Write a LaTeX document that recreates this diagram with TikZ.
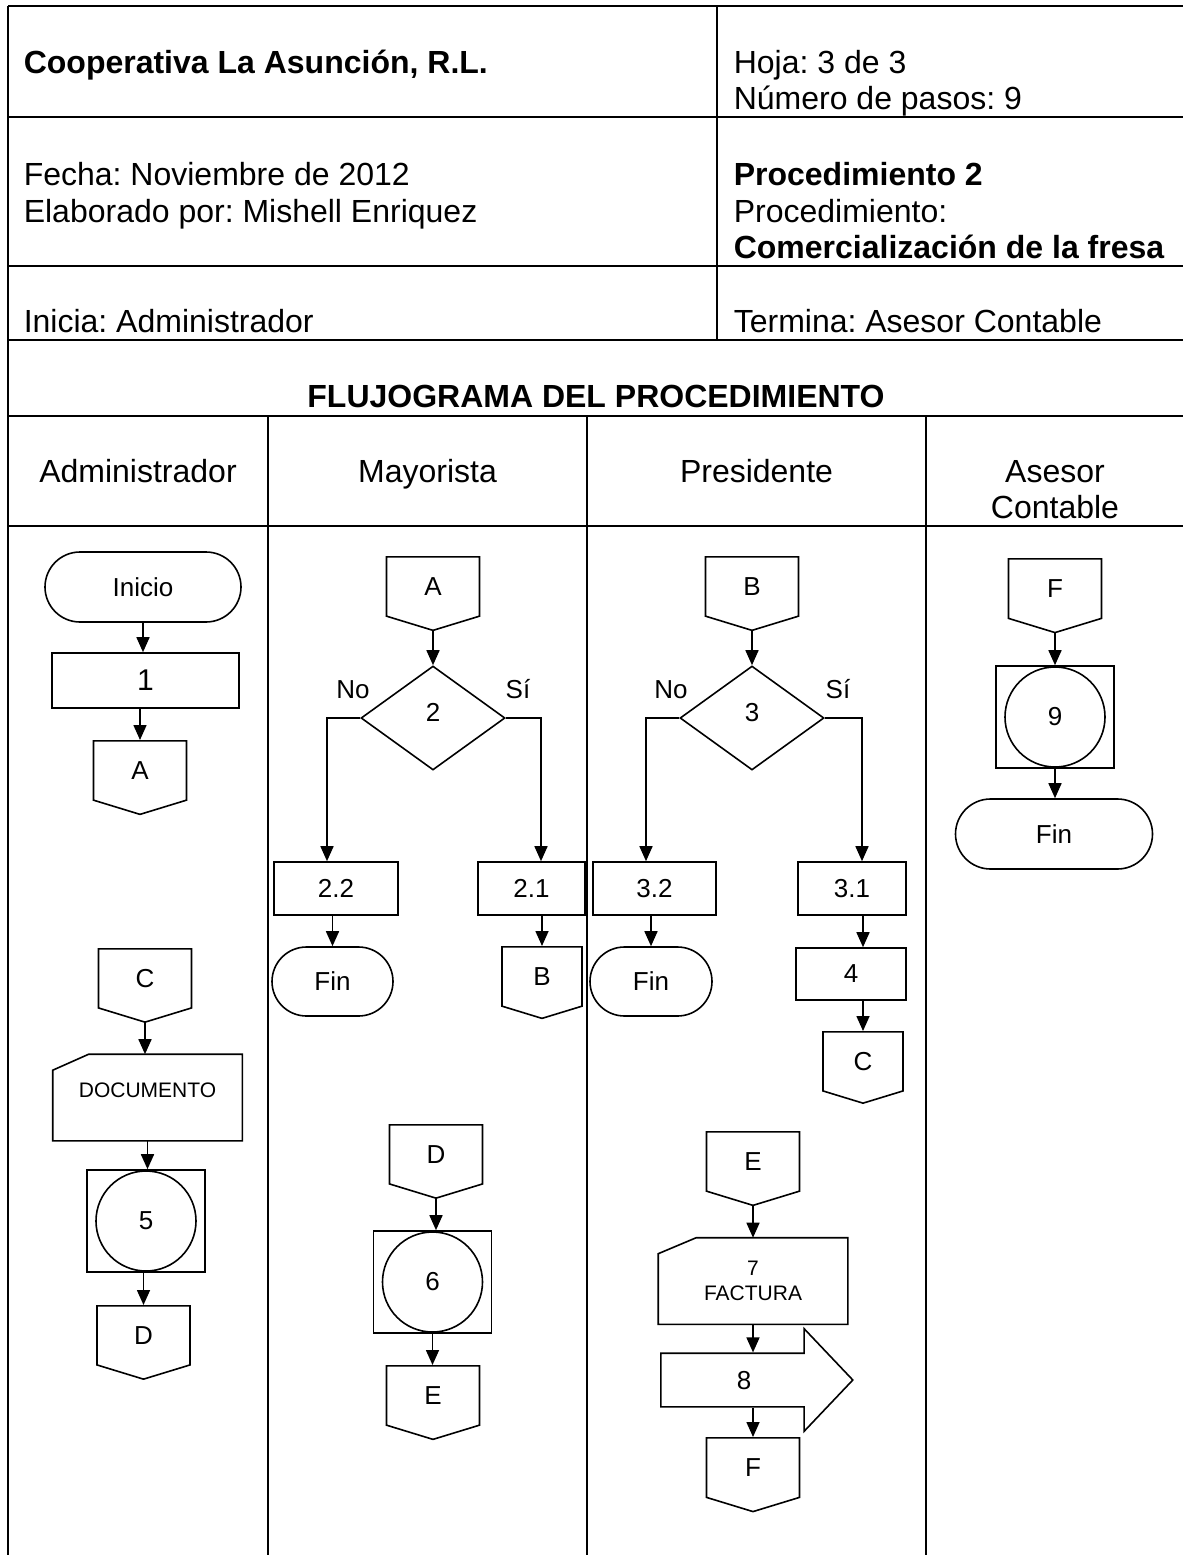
\documentclass[tikz,border=0pt]{standalone}
\usepackage{fontspec}
\setmainfont{Liberation Sans}
\usetikzlibrary{arrows.meta,shapes.geometric,shapes.misc,shapes.symbols,shapes.arrows}
\frenchspacing

\begin{document}
\begin{tikzpicture}[x=1pt,y=-1pt,line width=1.6pt,
    every node/.style={inner sep=0pt,font=\fontsize{26}{31}\selectfont},
    txt/.style={anchor=base west,font=\fontsize{32}{37}\selectfont},
    txtb/.style={anchor=base west,font=\fontsize{32}{37}\selectfont\bfseries},
    lane/.style={anchor=base,align=center,font=\fontsize{32}{36}\selectfont},
    term/.style={draw,rounded rectangle,minimum width=#1,minimum height=70pt},
    proc/.style={draw,minimum width=#1,minimum height=53pt},
    offpage/.style={draw,signal,signal to=south,signal pointer angle=146,
        minimum width=#1,minimum height=62pt,anchor=north},
    offpage/.default=93pt,
    decision/.style={draw,diamond,minimum width=144pt,minimum height=104pt,text depth=12pt},
    card/.style={minimum width=188pt,minimum height=85pt,align=center,font=\fontsize{21}{25}\selectfont},
    subproc/.style={draw,minimum width=118pt,minimum height=102pt,
        path picture={\draw (path picture bounding box.center) circle[radius=50pt];}},
    arrowbox/.style={draw,single arrow,single arrow head extend=24.5pt,single arrow tip angle=93,
        text height=18pt,text depth=0pt,inner ysep=17pt,minimum height=192pt,anchor=tail},
    flow/.style={-{Triangle[length=15pt,width=13pt]}}]
    \useasboundingbox (0,0) rectangle (1183,1555);
    \draw (8,6) -- (1183,6) (8,117) -- (1183,117) (8,266) -- (1183,266)
          (8,340) -- (1183,340) (8,416) -- (1183,416) (8,526) -- (1183,526);
    \draw (8,6) -- (8,1555);
    \draw (717,6) -- (717,340);
    \draw (268,416) -- (268,1555) (587,416) -- (587,1555) (926,416) -- (926,1555);

    \node[txtb] (coop) at (23,74) {Cooperativa La Asunción, R.L.};
    \node[txt] (hoja) at (733,74) {Hoja: 3 de 3};
    \node[txt] (pasos) at (733,110) {Número de pasos: 9};
    \node[txt] (fecha) at (23,185) {Fecha: Noviembre de 2012};
    \node[txt] (elab) at (23,222) {Elaborado por: Mishell Enriquez};
    \node[txtb] (proc2) at (733,185) {Procedimiento 2};
    \node[txt] (procl) at (733,222) {Procedimiento:};
    \node[txtb] (nombre) at (733,258) {Comercialización de la fresa};
    \node[txt] (inicia) at (23,332) {Inicia: Administrador};
    \node[txt] (termina) at (733,332) {Termina: Asesor Contable};
    \node[txtb,anchor=base] (titulo) at (596,407) {FLUJOGRAMA DEL PROCEDIMIENTO};
    \node[lane] (admin) at (138,482) {Administrador};
    \node[lane] (mayor) at (427.5,482) {Mayorista};
    \node[lane] (presi) at (756.5,482) {Presidente};
    \node[lane] (asesor) at (1055,518) {Asesor\\Contable};

    \node[term=196pt] (inicio) at (143,587) {Inicio};
    \node[proc=187pt,minimum height=55pt,font=\fontsize{30}{36}\selectfont] (paso1) at (145.5,680.5) {1};
    \node[offpage] (conA1) at (140,740) {A};
    \node[offpage] (conC2) at (145,948) {C};
    \node[card,text depth=14pt] (documento) at (147.5,1097.5) {DOCUMENTO};
    \node[subproc] (paso5) at (146,1221) {5};
    \node[offpage] (conD1) at (143.5,1305) {D};

    \node[offpage] (conA2) at (433,556) {A};
    \node[decision] (dec2) at (433,718) {2};
    \node[anchor=base] (no2) at (353,698) {No};
    \node[anchor=base] (si2) at (518,698) {Sí};
    \node[proc=124pt] (paso22) at (336,888.5) {2.2};
    \node[proc=107pt] (paso21) at (531.5,888.5) {2.1};
    \node[term=121pt,minimum height=69pt] (fin2) at (332.5,981.5) {Fin};
    \node[offpage=80pt] (conB1) at (542,946) {B};
    \node[offpage] (conD2) at (436,1124) {D};
    \node[subproc] (paso6) at (432.5,1282) {6};
    \node[offpage] (conE1) at (433,1365) {E};

    \node[offpage] (conB2) at (752,556) {B};
    \node[decision] (dec3) at (752,718) {3};
    \node[anchor=base] (no3) at (671,698) {No};
    \node[anchor=base] (si3) at (838,698) {Sí};
    \node[proc=123pt] (paso32) at (654.5,888.5) {3.2};
    \node[proc=108pt] (paso31) at (852,888.5) {3.1};
    \node[term=122pt,minimum height=69pt] (fin3) at (651,981.5) {Fin};
    \node[proc=110pt,minimum height=52pt] (paso4) at (851,974) {4};
    \node[offpage=80pt] (conC1) at (863,1031) {C};
    \node[offpage] (conE2) at (753,1131) {E};
    \node[card] (factura) at (753,1281) {7\\FACTURA};
    \node[arrowbox] (paso8) at (660,1380) {8};
    \node[offpage] (conF1) at (753,1437) {F};

    \node[offpage] (conF2) at (1055,558) {F};
    \node[subproc] (paso9) at (1055,717) {9};
    \node[term=197pt] (fin9) at (1054,834) {Fin};

    \draw ([yshift=-16pt]documento.north west) -- ([xshift=36pt]documento.north west)
        -- (documento.north east) -- (documento.south east) -- (documento.south west) -- cycle;
    \draw ([yshift=-16pt]factura.north west) -- ([xshift=38pt]factura.north west)
        -- (factura.north east) -- (factura.south east) -- (factura.south west) -- cycle;

    \draw[flow] (inicio.south) -- (inicio.south |- paso1.north);
    \draw[flow] (paso1.south -| conA1.north) -- (conA1.north);
    \draw[flow] (conC2.south) -- (conC2.south |- documento.north);
    \draw[flow] (documento.south) -- (documento.south |- paso5.north);
    \draw[flow] (paso5.south -| conD1.north) -- (conD1.north);
    \draw[flow] (conA2.south) -- (dec2.north);
    \draw[flow] (dec2.west) -| ([xshift=-9pt]paso22.north);
    \draw[flow] (dec2.east) -| ([xshift=9.5pt]paso21.north);
    \draw[flow] (paso22.south -| fin2.north) -- (fin2.north);
    \draw[flow] (paso21.south -| conB1.north) -- (conB1.north);
    \draw[flow] (conD2.south) -- (conD2.south |- paso6.north);
    \draw[flow] (paso6.south) -- (paso6.south |- conE1.north);
    \draw[flow] (conB2.south) -- (dec3.north);
    \draw[flow] (dec3.west) -| ([xshift=-8.5pt]paso32.north);
    \draw[flow] (dec3.east) -| ([xshift=10pt]paso31.north);
    \draw[flow] (paso32.south -| fin3.north) -- (fin3.north);
    \draw[flow] (paso31.south -| conC1.north) -- (paso4.north -| conC1.north);
    \draw[flow] (paso4.south -| conC1.north) -- (conC1.north);
    \draw[flow] (conE2.south) -- (conE2.south |- factura.north);
    \draw[flow] (factura.south) -- (factura.south |- paso8.north);
    \draw[flow] (paso8.south -| conF1.north) -- (conF1.north);
    \draw[flow] (conF2.south) -- (paso9.north);
    \draw[flow] (paso9.south) -- (paso9.south |- fin9.north);
\end{tikzpicture}
\end{document}
